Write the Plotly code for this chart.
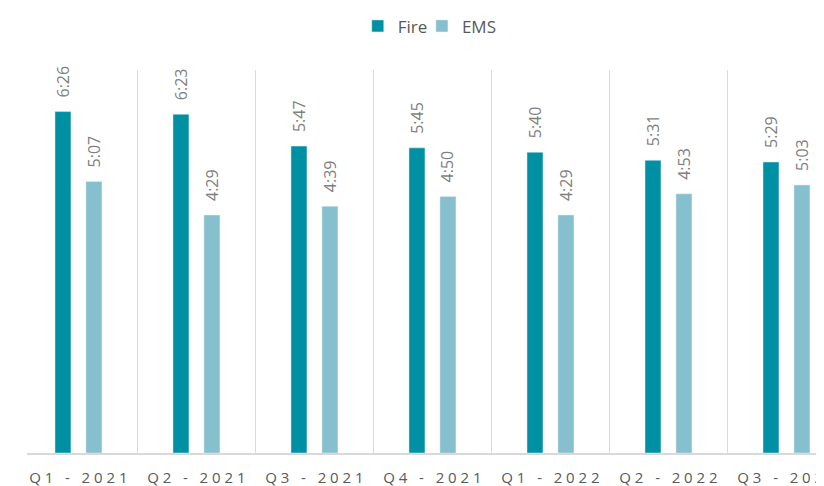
import plotly.graph_objects as go

# quarters and response times (mm:ss)
quarters = ["Q1 - 2021", "Q2 - 2021", "Q3 - 2021", "Q4 - 2021",
            "Q1 - 2022", "Q2 - 2022", "Q3 - 2022"]
fire_times = ["6:26", "6:23", "5:47", "5:45", "5:40", "5:31", "5:29"]
ems_times = ["5:07", "4:29", "4:39", "4:50", "4:29", "4:53", "5:03"]


def to_sec(t):
    m, s = t.split(":")
    return int(m) * 60 + int(s)


fire_sec = [to_sec(t) for t in fire_times]
ems_sec = [to_sec(t) for t in ems_times]

# spaced out tick labels, like the excel look
nb = "\u00a0"
tick_text = [nb.join(list(q)) for q in quarters]

FIRE = "#0090A3"
EMS = "#86BFCD"
GREY = "#595959"

fig = go.Figure()
fig.add_trace(go.Bar(x=quarters, y=fire_sec, name="Fire", marker_color=FIRE, legend="legend"))
fig.add_trace(go.Bar(x=quarters, y=ems_sec, name="EMS", marker_color=EMS, legend="legend2"))

# data labels, rotated, above each bar
for q, v, t in zip(quarters, fire_sec, fire_times):
    fig.add_annotation(x=q, y=v, text=t, textangle=-90, showarrow=False,
                       xshift=-15.5, yshift=12, yanchor="bottom",
                       font=dict(family="Open Sans", size=16, color="#7F7F7F"))
for q, v, t in zip(quarters, ems_sec, ems_times):
    fig.add_annotation(x=q, y=v, text=t, textangle=-90, showarrow=False,
                       xshift=15.5, yshift=12, yanchor="bottom",
                       font=dict(family="Open Sans", size=16, color="#7F7F7F"))

# one legend per series so the two entries sit closer, like excel
leg = dict(orientation="h", y=1.114, yanchor="middle", xanchor="left",
           bgcolor="rgba(0,0,0,0)", font=dict(size=17, color=GREY), itemwidth=30)

# page body has an 8px margin, so the figure is a bit smaller than the window
fig.update_layout(
    width=816, height=478,
    margin=dict(l=19, r=0, t=60, b=33),
    paper_bgcolor="white", plot_bgcolor="white",
    barmode="group", bargap=0.475, bargroupgap=0.484,
    font=dict(family="Open Sans", color=GREY),
    showlegend=True,
    legend=dict(leg, x=0.415),
    legend2=dict(leg, x=0.4955),
)
fig.update_xaxes(
    type="category", range=[-0.436, 6.318],
    tickmode="array", tickvals=quarters, ticktext=tick_text,
    tickson="boundaries", showgrid=True, gridcolor="#D9D9D9", gridwidth=1,
    showline=True, linecolor="#D9D9D9", linewidth=1.5,
    ticks="", ticklabelstandoff=10, automargin=False,
    tickfont=dict(family="Open Sans", size=15, color=GREY),
)
fig.update_yaxes(range=[0, 433], visible=False, showgrid=False, zeroline=False)

fig.write_html("out.html")
